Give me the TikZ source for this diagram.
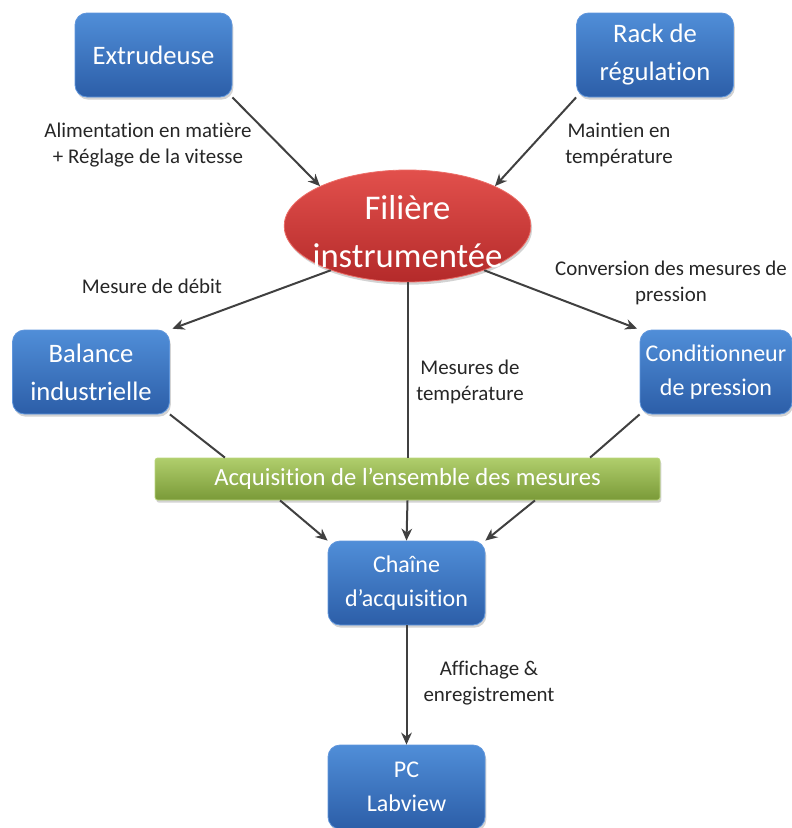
\documentclass[tikz,border=0pt]{standalone}
\usepackage{fontspec}
\setmainfont{Carlito}[Ligatures={NoCommon}]
\usetikzlibrary{shapes.geometric,shadows,arrows.meta,calc}
\definecolor{bluetop}{RGB}{80,142,216}
\definecolor{bluebot}{RGB}{44,94,168}
\definecolor{blueedge}{RGB}{96,150,220}
\definecolor{redtop}{RGB}{226,80,76}
\definecolor{redbot}{RGB}{180,42,42}
\definecolor{rededge}{RGB}{236,110,104}
\definecolor{greentop}{RGB}{176,206,108}
\definecolor{greenbot}{RGB}{122,154,56}
\definecolor{greenedge}{RGB}{186,214,124}
\definecolor{linecol}{RGB}{64,64,64}
\begin{document}
\begin{tikzpicture}[x=0.75pt,y=-0.75pt,
  shad/.style={drop shadow={opacity=0.35,shadow xshift=1pt,shadow yshift=-2pt}},
  bluebox/.style={shad,rounded corners=9pt,minimum width=117.75pt,minimum height=63pt,
    top color=bluetop,bottom color=bluebot,draw=blueedge,line width=0.6pt,
    text=white,align=center,inner sep=2pt},
  bigtxt/.style={font=\fontsize{20}{28.5}\selectfont},
  smalltxt/.style={font=\fontsize{18}{25.5}\selectfont},
  redell/.style={shad,ellipse,minimum width=185pt,minimum height=84pt,inner sep=0pt,
    top color=redtop,bottom color=redbot,draw=rededge,line width=0.6pt},
  elltxt/.style={font=\fontsize{26}{36}\selectfont,text=white,align=center},
  greenbar/.style={shad,rounded corners=2pt,minimum width=378.75pt,minimum height=31.5pt,
    top color=greentop,bottom color=greenbot,draw=greenedge,line width=0.6pt,
    text=white,font=\fontsize{18.5}{22}\selectfont,inner sep=0pt},
  lab/.style={font=\fontsize{15.7}{19.5}\selectfont,align=center,text=black!85},
  conn/.style={line width=1.5pt,draw=linecol},
  arr/.style={conn,-{Stealth[length=9pt,width=8pt]}}
]
\useasboundingbox (0,0) rectangle (792,828);

% nodes
\node[bluebox,bigtxt] (ext) at (153.5,55) {Extrudeuse};
\node[bluebox,bigtxt] (rack) at (655,55) {Rack de\\régulation};
\node[redell] (fil) at (407.5,226) {};
\node[elltxt] (filtxt) at ($(fil.center)+(0,6)$) {Filière\\instrumentée};
\node[bluebox,bigtxt] (bal) at (91,372) {Balance\\industrielle};
\node[bluebox,smalltxt,minimum width=114pt] (cond) at (716,372) {Conditionneur\\de pression};
\node[greenbar] (acq) at (407.5,479) {Acquisition de l’ensemble des mesures};
\node[bluebox,smalltxt] (cha) at (406.5,583) {Chaîne\\d’acquisition};
\node[bluebox,smalltxt] (pc) at (406.5,787) {PC\\Labview};

% labels
\node[lab] (l1) at (148,145) {Alimentation en matière\\+ Réglage de la vitesse};
\node[lab] (l2) at (619,145) {Maintien en\\température};
\node[lab] (l3) at (152,286) {Mesure de débit};
\node[lab] (l4) at (671,283) {Conversion des mesures de\\pression};
\node[lab] (l5) at (470,382) {Mesures de\\température};
\node[lab] (l6) at (489,683) {Affichage \&\\enregistrement};

% connectors
\draw[arr] (ext.south east) -- (fil.north west);
\draw[arr] (rack.south west) -- (fil.north east);
\draw[arr,shorten >=2pt] (fil.210) -- (bal.north east);
\draw[arr,shorten >=2pt] (fil.330) -- (cond.north west);
\draw[conn] (fil.south) -- (acq.north);
\draw[conn] (bal.south east) -- ($(acq.north west)!0.139!(acq.north east)$);
\draw[conn] (cond.south west) -- ($(acq.north west)!0.861!(acq.north east)$);
\draw[arr] ($(acq.south west)!0.248!(acq.south east)$) -- (cha.north west);
\draw[arr] (acq.south) -- (cha.north);
\draw[arr] ($(acq.south west)!0.752!(acq.south east)$) -- (cha.north east);
\draw[arr] (cha.south) -- (pc.north);
\end{tikzpicture}
\end{document}
